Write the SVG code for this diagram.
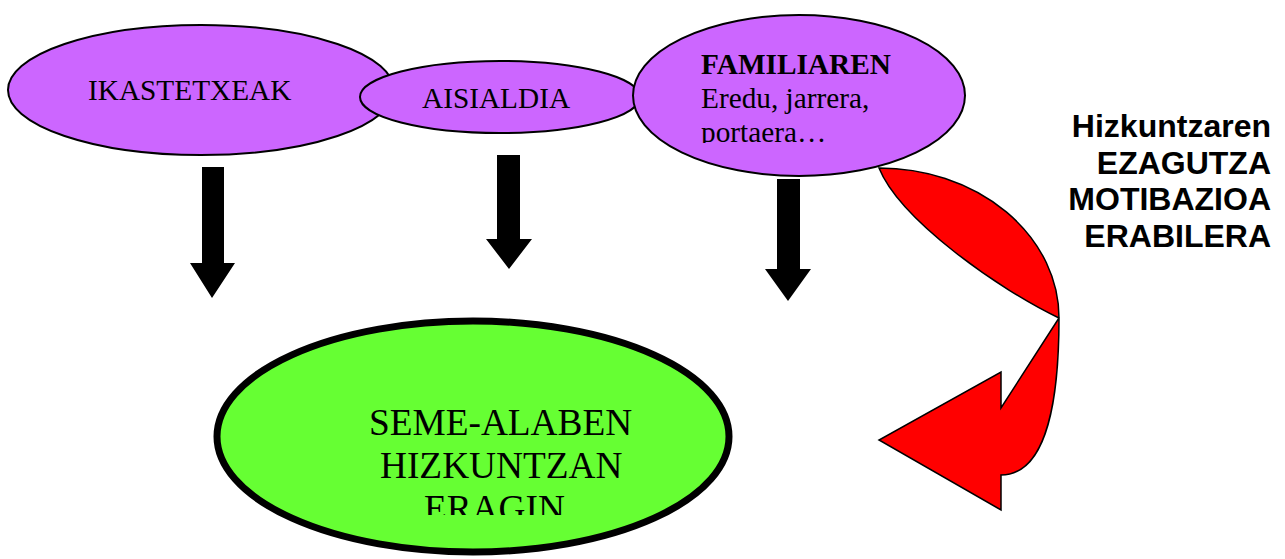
<svg xmlns="http://www.w3.org/2000/svg" width="1285" height="559" viewBox="0 0 1285 559">
<style>
.purple{fill:#CC66FF;stroke:#000;stroke-width:2}
.green{fill:#66FF33;stroke:#000;stroke-width:7}
.serif{font-family:"Liberation Serif","Times New Roman",serif;fill:#000}
.t29{font-size:29.3px}
.t37{font-size:37.3px}
.bold{font-weight:bold}
.side{font-family:"Liberation Sans",Arial,sans-serif;font-weight:bold;font-size:32px;fill:#000;text-anchor:end}
.arrow{fill:#000;stroke:none}
.red{fill:#FF0000;stroke:#000;stroke-width:1.5;stroke-linejoin:miter}
</style>
<defs>
<clipPath id="clipFam"><rect x="630" y="0" width="340" height="143"/></clipPath>
<clipPath id="clipSeme"><rect x="220" y="300" width="510" height="215"/></clipPath>
</defs>
<g id="ikastetxeak">
<ellipse class="purple" cx="201" cy="90" rx="193" ry="65"/>
<text class="serif t29" x="88" y="100">IKASTETXEAK</text>
</g>
<g id="aisialdia">
<ellipse class="purple" cx="500" cy="97" rx="140" ry="36"/>
<text class="serif t29" x="422" y="108">AISIALDIA</text>
</g>
<g id="familiaren">
<ellipse class="purple" cx="799" cy="95.5" rx="166" ry="80.5"/>
<g clip-path="url(#clipFam)">
<text class="serif t29 bold" x="701" y="74">FAMILIAREN</text>
<text class="serif t29" x="701" y="108">Eredu, jarrera,</text>
<text class="serif t29" x="701" y="141.5">portaera…</text>
</g>
</g>
<g id="seme-alaben">
<ellipse class="green" cx="473" cy="436.5" rx="256" ry="115.5"/>
<g clip-path="url(#clipSeme)">
<text class="serif t37" x="369" y="435">SEME-ALABEN</text>
<text class="serif t37" x="380" y="478">HIZKUNTZAN</text>
<text class="serif t37" x="424" y="521">ERAGIN</text>
</g>
</g>
<g id="hizkuntzaren">
<text class="side" x="1271" y="137">Hizkuntzaren</text>
<text class="side" x="1271" y="173.5">EZAGUTZA</text>
<text class="side" x="1271" y="210">MOTIBAZIOA</text>
<text class="side" x="1271" y="246.5">ERABILERA</text>
</g>
<g id="connectors">
<polygon class="arrow" points="202,167 224,167 224,263 235,263 212,298 190,263 202,263"/>
<polygon class="arrow" points="497,155 520,155 520,239 532,239 509,269 486,239 497,239"/>
<polygon class="arrow" points="777,179 800,179 800,269 811,269 788,301 765,269 777,269"/>
<path class="red" d="M 879 168 A 180 150 0 0 1 1059 318 C 1059 420 1040 475 1001 475 L 1001 510 L 879 440 L 1001 372 L 1001 408 L 1059 318 C 1000 290 900 220 879 168 Z"/>
</g>
</svg>
